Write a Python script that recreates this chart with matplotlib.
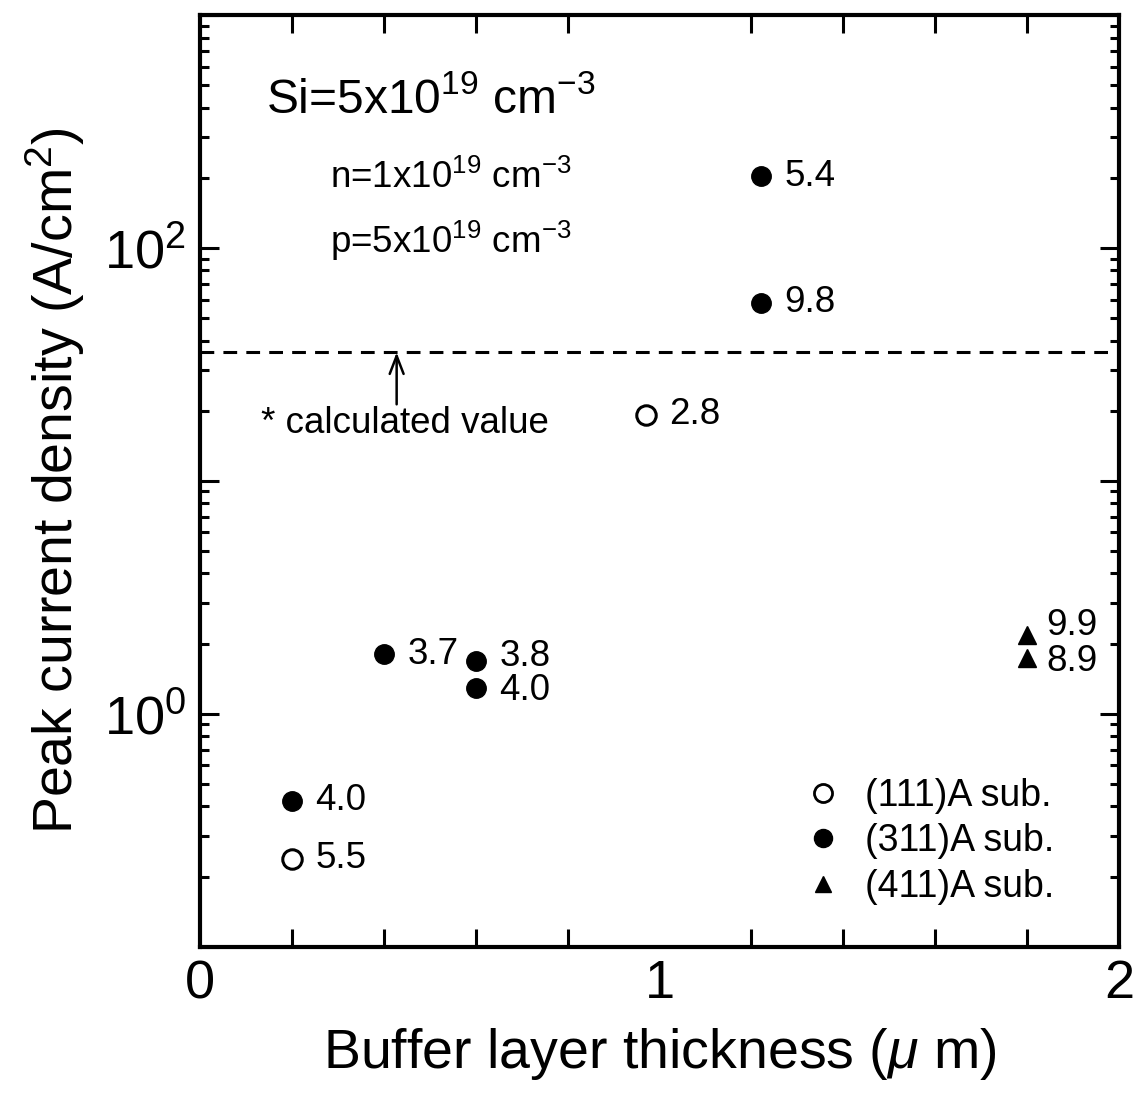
import matplotlib
matplotlib.use("Agg")
import matplotlib.pyplot as plt
import numpy as np
from matplotlib.lines import Line2D
from matplotlib.ticker import FixedLocator, LogLocator, FuncFormatter, NullFormatter

plt.rcParams["font.family"] = ["Liberation Sans", "DejaVu Sans"]
plt.rcParams["mathtext.fontset"] = "custom"
plt.rcParams["mathtext.rm"] = "Liberation Sans"
plt.rcParams["mathtext.it"] = "Liberation Sans:italic"
plt.rcParams["mathtext.default"] = "regular"

# (111)A substrate, open circles
x111 = [0.2, 0.97]
j111 = [0.238, 19.2]
pv111 = ["5.5", "2.8"]

# (311)A substrate, filled circles
x311 = [0.2, 0.4, 0.6, 0.6, 1.22, 1.22]
j311 = [0.424, 1.80, 1.69, 1.29, 203.0, 58.0]
pv311 = ["4.0", "3.7", "3.8", "4.0", "5.4", "9.8"]

# (411)A substrate, filled triangles
x411 = [1.8, 1.8]
j411 = [2.17, 1.74]
pv411 = ["9.9", "8.9"]

j_calc = 35.6          # calculated peak current density
x_arrow = 0.428

fig = plt.figure(figsize=(11.42, 10.93), dpi=100)
ax = fig.add_axes([0.1751, 0.1339, 0.9799 - 0.1751, 0.9863 - 0.1339])

ax.set_yscale("log")
ax.set_xlim(0, 2)
ax.set_ylim(0.1, 1000)

ms = 14
ax.plot(x111, j111, "o", ms=ms, mfc="white", mec="black", mew=2.2, ls="none")
ax.plot(x311, j311, "o", ms=ms, mfc="black", mec="black", ls="none")
ax.plot(x411, j411, "^", ms=13, mfc="black", mec="black", ls="none")

lab_kw = dict(textcoords="offset points", fontsize=26.5, va="center", ha="left")
for x, y, t in zip(x111, j111, pv111):
    ax.annotate(t, (x, y), xytext=(17, 0), **lab_kw)
for (x, y, t), dy in zip(zip(x311, j311, pv311), [0, 0, 3, -2, 0, 0]):
    ax.annotate(t, (x, y), xytext=(17, dy), **lab_kw)
for (x, y, t), dy in zip(zip(x411, j411, pv411), [7, -3]):
    ax.annotate(t, (x, y), xytext=(14, dy), **lab_kw)

# calculated value
ax.axhline(j_calc, color="black", lw=2.2, ls=(0, (4.5, 3)))
ax.annotate("", xy=(x_arrow, j_calc), xytext=(x_arrow, 21.3),
            arrowprops=dict(arrowstyle="->,head_length=1.3,head_width=0.5",
                            color="black", lw=1.8, shrinkA=0, shrinkB=0))
ax.text(0.066, 0.551, "* calculated value", transform=ax.transAxes,
        fontsize=26.5, va="baseline", ha="left")

ax.text(0.072, 0.895, "Si=5x10$^{19}$ cm$^{-3}$", transform=ax.transAxes,
        fontsize=34.5, va="baseline", ha="left")
ax.text(0.142, 0.814, "n=1x10$^{19}$ cm$^{-3}$", transform=ax.transAxes,
        fontsize=26.5, va="baseline", ha="left")
ax.text(0.142, 0.745, "p=5x10$^{19}$ cm$^{-3}$", transform=ax.transAxes,
        fontsize=26.5, va="baseline", ha="left")

handles = [
    Line2D([], [], marker="o", ls="none", ms=13, mfc="white", mec="black", mew=2),
    Line2D([], [], marker="o", ls="none", ms=13, mfc="black", mec="black"),
    Line2D([], [], marker="^", ls="none", ms=12, mfc="black", mec="black"),
]
ax.legend(handles, ["(111)A sub.", "(311)A sub.", "(411)A sub."],
          loc="lower left", bbox_to_anchor=(0.658, 0.045), frameon=False,
          fontsize=27, handlelength=1.0, handletextpad=0.6, labelspacing=0.25,
          borderpad=0, borderaxespad=0)

# ticks
ax.xaxis.set_major_locator(FixedLocator([0, 1, 2]))
ax.xaxis.set_minor_locator(FixedLocator(np.arange(0.2, 2.0, 0.2)))
ax.yaxis.set_major_locator(LogLocator(base=10, numticks=10))
ax.yaxis.set_minor_locator(LogLocator(base=10, subs=np.arange(2, 10), numticks=20))
ax.yaxis.set_minor_formatter(NullFormatter())


def ylab(v, pos):
    if np.isclose(v, 1):
        return "$10^{0}$"
    if np.isclose(v, 100):
        return "$10^{2}$"
    return ""


ax.yaxis.set_major_formatter(FuncFormatter(ylab))
ax.xaxis.set_major_formatter(FuncFormatter(lambda v, p: f"{v:g}"))

ax.tick_params(which="both", direction="in", top=True, right=True, width=2.2)
ax.tick_params(axis="x", which="major", length=0, pad=9, labelsize=39)
ax.tick_params(axis="x", which="minor", length=13)
ax.tick_params(axis="y", which="major", length=14, pad=10, labelsize=39)
ax.tick_params(axis="y", which="minor", length=6.5)

for s in ax.spines.values():
    s.set_linewidth(3)

ax.set_xlabel("Buffer layer thickness ($\\mathit{\\mu}$ m)", fontsize=40, labelpad=12)
ax.set_ylabel("Peak current density (A/cm$^{2}$)", fontsize=40, labelpad=12)

fig.savefig("out.png", dpi=100)
